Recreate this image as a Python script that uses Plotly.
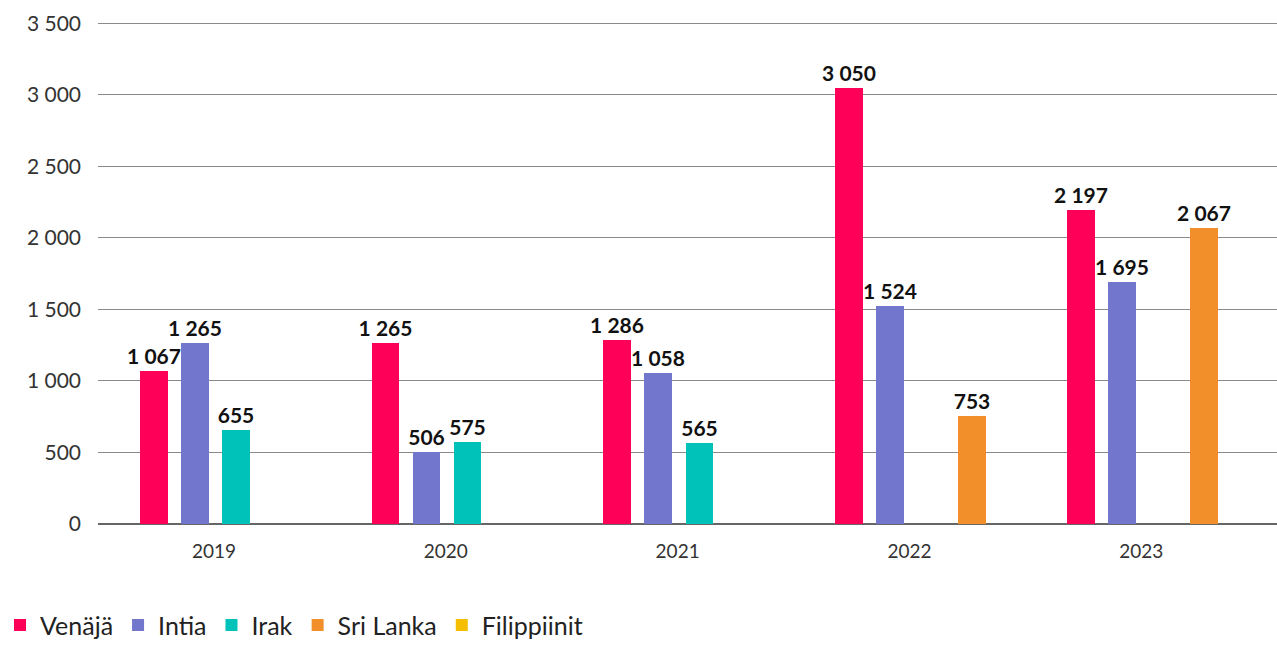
import plotly.graph_objects as go

years = ["2019", "2020", "2021", "2022", "2023"]
venaja = [1067, 1265, 1286, 3050, 2197]
intia = [1265, 506, 1058, 1524, 1695]
irak = [655, 575, 565, None, None]
sri_lanka = [None, None, None, 753, 2067]
filippiinit = [None, None, None, None, None]

series = [
    ("Venäjä", venaja, "#FF0058"),
    ("Intia", intia, "#7276CC"),
    ("Irak", irak, "#00C2B9"),
    ("Sri Lanka", sri_lanka, "#F28F2B"),
    ("Filippiinit", filippiinit, "#F5BE00"),
]

# bars sit in four slots per year; Filippiinit has no bars
bar_w = 0.12
slot_offsets = [-0.32, -0.143, 0.034, 0.211, 0.211]

fig = go.Figure()
for (name, vals, color), off in zip(series, slot_offsets):
    fig.add_trace(
        go.Bar(
            x=years,
            y=vals,
            name=name,
            marker=dict(color=color, line=dict(width=0)),
            width=bar_w,
            offset=off,
            text=vals,
            texttemplate="<b>%{y:,}</b>",
            textposition="outside",
            cliponaxis=False,
            textfont=dict(family="Lato", size=21, color="#111111"),
        )
    )

fig.update_layout(
    width=1277,
    height=646,
    margin=dict(l=98, r=0, t=19, b=122, autoexpand=False),
    plot_bgcolor="white",
    paper_bgcolor="white",
    separators=", ",
    font=dict(family="Lato", size=20, color="#333333"),
    uniformtext=dict(minsize=21, mode="show"),
    showlegend=True,
    legend=dict(
        orientation="h",
        xref="container",
        x=-0.004,
        xanchor="left",
        y=-0.155,
        yanchor="top",
        font=dict(family="Lato", size=25, color="#222222"),
        traceorder="normal",
        itemwidth=30,
    ),
    bargap=0,
)
fig.update_yaxes(
    range=[0, 3530],
    tickvals=[0, 500, 1000, 1500, 2000, 2500, 3000, 3500],
    tickformat=",",
    showgrid=True,
    gridcolor="#8a8a8a",
    gridwidth=1,
    zeroline=True,
    zerolinecolor="#666666",
    zerolinewidth=1.5,
    ticks="",
    ticklabelstandoff=16,
    tickfont=dict(size=21, color="#333333"),
)
fig.update_xaxes(
    range=[-0.5, 4.585],
    showgrid=False,
    showline=False,
    ticks="",
    ticklabelstandoff=14,
    tickfont=dict(size=19, color="#333333"),
)

fig.write_html(
    "out.html",
    config={"displayModeBar": False},
    post_script="document.body.style.margin='0';document.body.style.overflow='hidden';",
)
